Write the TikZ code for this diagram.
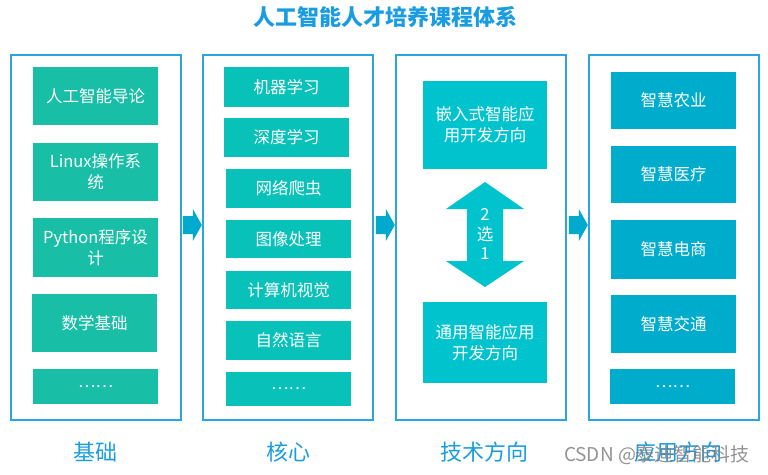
\documentclass[tikz,border=0pt]{standalone}
\usepackage{fontspec}
\setmainfont{Noto Sans CJK SC}
\usetikzlibrary{calc}

\definecolor{framecol}{HTML}{2AA5E0}
\definecolor{titlecol}{HTML}{1A9DE0}
\definecolor{basecol}{HTML}{18BEA5}
\definecolor{corecol}{HTML}{08C1B8}
\definecolor{techcol}{HTML}{00C3CE}
\definecolor{appcol}{HTML}{00ACCC}
\definecolor{arrowcol}{HTML}{00A9CE}

\begin{document}
\begin{tikzpicture}[x=1pt,y=-1pt,
  frame/.style={draw=framecol, line width=1.3pt, minimum width=170pt, minimum height=365pt, inner sep=0pt},
  box/.style={text=white, font=\fontsize{16.5}{21}\selectfont, align=center, minimum width=125pt, inner sep=0pt},
  basebox/.style={box, fill=basecol},
  corebox/.style={box, fill=corecol},
  techbox/.style={box, fill=techcol, minimum width=124pt},
  appbox/.style={box, fill=appcol},
  collabel/.style={text=titlecol, font=\fontsize{22}{26}\selectfont},
  blockarrow/.style={fill=arrowcol}]
\useasboundingbox (0,0) rectangle (768,474);

\node [text=titlecol, font=\fontsize{22}{26}\selectfont\bfseries] (title) at (385,17) {人工智能人才培养课程体系};

% four columns
\node [frame] (f1) at (96,237.5) {};
\node [frame] (f2) at (288,237.5) {};
\node [frame] (f3) at (481,237.5) {};
\node [frame] (f4) at (674,237.5) {};

% basics
\node [basebox, minimum height=58pt] (b1) at (95.5,96) {人工智能导论};
\node [basebox, minimum height=58pt] (b2) at (95.5,172) {Linux操作系\\统};
\node [basebox, minimum height=59pt] (b3) at (95.5,247.5) {Python程序设\\计};
\node [basebox, minimum height=58pt] (b4) at (94.5,323) {数学基础};
\node [basebox, minimum height=35pt] (b5) at (95.5,386.5) {……};

% core
\node [corebox, minimum height=40pt] (c1) at (286.5,87) {机器学习};
\node [corebox, minimum height=39pt] (c2) at (286.5,137.5) {深度学习};
\node [corebox, minimum height=39pt] (c3) at (288.5,188.5) {网络爬虫};
\node [corebox, minimum height=38pt] (c4) at (288.5,239) {图像处理};
\node [corebox, minimum height=38pt] (c5) at (288.5,290) {计算机视觉};
\node [corebox, minimum height=39pt] (c6) at (288.5,340.5) {自然语言};
\node [corebox, minimum height=34pt] (c7) at (288.5,389) {……};

% technical direction
\node [techbox, minimum height=88pt] (t1) at (485,125) {嵌入式智能应\\用开发方向};
\node [techbox, minimum height=81pt] (t2) at (485,342.5) {通用智能应用\\开发方向};
\coordinate (sel) at (485,234.5);
\fill [techcol] (sel) ++(0,-52.5) -- ++(39,27) -- ++(-21,0) -- ++(0,52) -- ++(21,0) -- ++(-39,26)
  -- ++(-39,-26) -- ++(21,0) -- ++(0,-52) -- ++(-21,0) -- cycle;
\node [text=white, font=\fontsize{16.5}{19.5}\selectfont, align=center] (seltext) at (sel) {2\\选\\1};

% applications
\node [appbox, minimum height=57pt] (a1) at (673.5,100.5) {智慧农业};
\node [appbox, minimum height=57pt] (a2) at (673.5,174.5) {智慧医疗};
\node [appbox, minimum height=59pt] (a3) at (673.5,249.5) {智慧电商};
\node [appbox, minimum height=58pt] (a4) at (673.5,324) {智慧交通};
\node [appbox, minimum height=35pt] (a5) at (672.5,386.5) {……};

% arrows between columns
\fill [blockarrow] ($(f2.west)+(-0.5,-12.5)$) -- ++(-9,-16) -- ++(0,7) -- ++(-10,0) -- ++(0,18) -- ++(10,0) -- ++(0,7) -- cycle;
\fill [blockarrow] ($(f3.west)+(-0.5,-12.5)$) -- ++(-9,-16) -- ++(0,7) -- ++(-10,0) -- ++(0,18) -- ++(10,0) -- ++(0,7) -- cycle;
\fill [blockarrow] ($(f4.west)+(-0.5,-12.5)$) -- ++(-9,-16) -- ++(0,7) -- ++(-10,0) -- ++(0,18) -- ++(10,0) -- ++(0,7) -- cycle;

% column labels
\node [collabel] (l1) at (95,452) {基础};
\node [collabel] (l2) at (288,452) {核心};
\node [collabel] (l3) at (484,452) {技术方向};
\node [collabel] (l4) at (678,452) {应用方向};

\node [text=gray, text opacity=0.85, font=\fontsize{19}{22}\selectfont] (wm) at (657,455) {CSDN @泰迪智能科技};

\end{tikzpicture}
\end{document}
